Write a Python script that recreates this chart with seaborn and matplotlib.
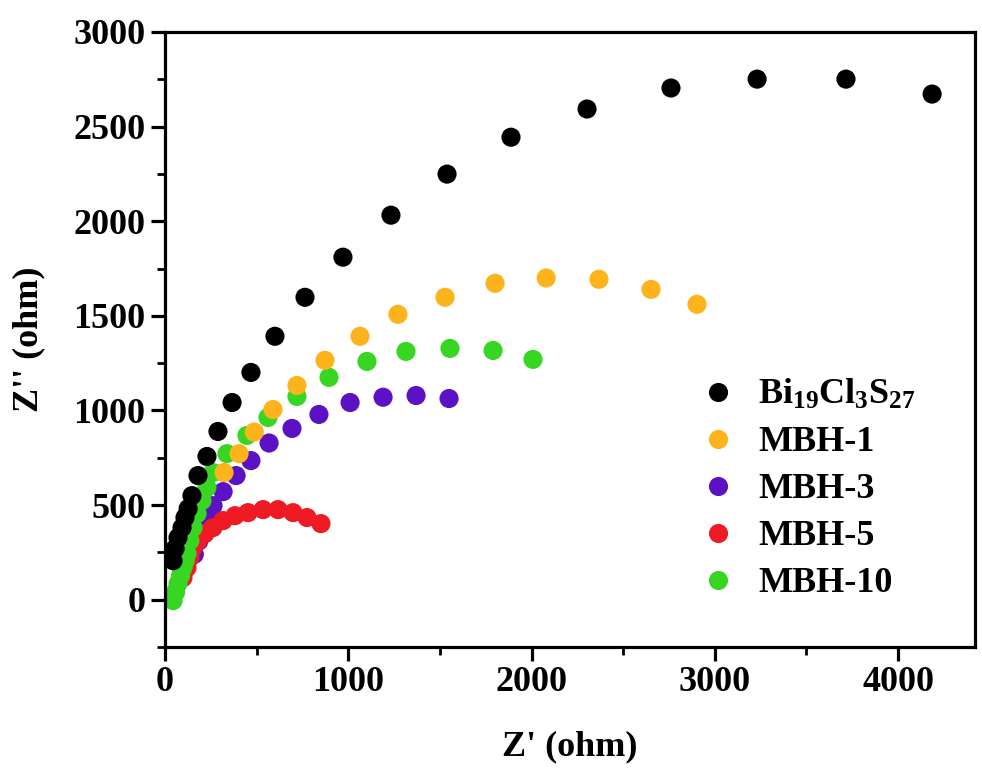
import numpy as np
import pandas as pd
import matplotlib
matplotlib.use("Agg")
import matplotlib.pyplot as plt
from matplotlib.ticker import MultipleLocator
import seaborn as sns

# ---- data ----
bi_x = [44, 55, 71, 93, 109, 126, 147, 180, 229, 289, 366, 469, 600, 764, 971, 1233, 1539, 1888, 2303, 2761, 3231, 3716, 4186]
bi_y = [206, 270, 328, 381, 434, 481, 550, 656, 757, 889, 1042, 1201, 1392, 1598, 1810, 2032, 2249, 2444, 2593, 2704, 2751, 2751, 2672]

m1_x = [322, 404, 487, 589, 720, 873, 1064, 1271, 1528, 1801, 2080, 2368, 2652, 2903]
m1_y = [672, 772, 886, 1005, 1132, 1265, 1392, 1508, 1598, 1672, 1700, 1693, 1640, 1561]

m3_x = [160, 185, 207, 229, 262, 317, 388, 469, 568, 693, 840, 1010, 1190, 1370, 1550]
m3_y = [240, 310, 381, 434, 497, 571, 656, 735, 828, 905, 979, 1042, 1070, 1079, 1063]

m5_x = [98, 120, 136, 153, 180, 218, 262, 317, 382, 453, 535, 617, 699, 775, 851]
m5_y = [116, 169, 222, 275, 312, 349, 381, 418, 444, 460, 476, 476, 460, 434, 402]

m10_x = [44, 58, 71, 85, 98, 110, 120, 136, 153, 175, 202, 229, 262, 338, 447, 562, 720, 895, 1102, 1315, 1555, 1790, 2008]
m10_y = [-5, 40, 85, 128, 169, 205, 243, 312, 381, 455, 524, 593, 672, 772, 868, 963, 1074, 1175, 1259, 1312, 1328, 1317, 1270]

labels = [r"Bi$_{19}$Cl$_{3}$S$_{27}$", "MBH-1", "MBH-3", "MBH-5", "MBH-10"]
colors = ["#000000", "#FDB31C", "#5A12C4", "#EE1A24", "#36D622"]

# drawing order (bottom -> top) to mimic overlaps
draw_order = [2, 3, 4, 1, 0]
series = [(bi_x, bi_y), (m1_x, m1_y), (m3_x, m3_y), (m5_x, m5_y), (m10_x, m10_y)]

frames = []
for i in draw_order:
    xs, ys = series[i]
    frames.append(pd.DataFrame({"x": xs, "y": ys, "sample": labels[i]}))
df = pd.concat(frames, ignore_index=True)

# ---- style ----
sns.set_style("ticks")
plt.rcParams["font.family"] = ["Liberation Serif", "DejaVu Serif"]
plt.rcParams["font.weight"] = "bold"
plt.rcParams["mathtext.fontset"] = "custom"
plt.rcParams["mathtext.rm"] = "Liberation Serif:bold"
plt.rcParams["mathtext.it"] = "Liberation Serif:bold"
plt.rcParams["mathtext.bf"] = "Liberation Serif:bold"
plt.rcParams["mathtext.default"] = "regular"
plt.rcParams["text.color"] = "black"
plt.rcParams["axes.labelcolor"] = "black"
plt.rcParams["xtick.color"] = "black"
plt.rcParams["ytick.color"] = "black"
plt.rcParams["axes.edgecolor"] = "black"

FS = 26

fig = plt.figure(figsize=(9.82, 7.69), dpi=100)
ax = fig.add_axes([165 / 982, 1 - 647 / 769, (975 - 165) / 982, (647 - 32) / 769])

sns.scatterplot(data=df, x="x", y="y", hue="sample", hue_order=labels,
                palette=dict(zip(labels, colors)), s=190, linewidth=0,
                edgecolor="none", alpha=1, ax=ax)

ax.set_xlim(0, 4420)
ax.set_ylim(-250, 3000)
ax.xaxis.set_major_locator(MultipleLocator(1000))
ax.xaxis.set_minor_locator(MultipleLocator(500))
ax.yaxis.set_major_locator(MultipleLocator(500))
ax.yaxis.set_minor_locator(MultipleLocator(250))

for sp in ax.spines.values():
    sp.set_linewidth(2.3)
    sp.set_color("black")
ax.tick_params(which="major", direction="out", length=10, width=2.3, pad=4,
               labelsize=FS, top=False, right=False, color="black",
               labelcolor="black")
ax.tick_params(which="minor", direction="out", length=6, width=2.0,
               top=False, right=False, color="black")
for t in ax.get_xticklabels() + ax.get_yticklabels():
    t.set_fontweight("bold")

ax.set_xlabel("Z' (ohm)", fontsize=FS, fontweight="bold", labelpad=22, color="black")
ax.set_ylabel("Z'' (ohm)", fontsize=FS, fontweight="bold", labelpad=20, color="black")

handles, labs = ax.get_legend_handles_labels()
leg = ax.legend(handles, labs, frameon=False, loc="upper left",
                bbox_to_anchor=(0.661, 0.437), borderaxespad=0, borderpad=0,
                handlelength=1.0, handletextpad=0.6, labelspacing=0.38,
                prop={"size": FS, "weight": "bold"}, markerscale=1.0)
for t in leg.get_texts():
    t.set_color("black")

fig.savefig("out.png", dpi=100)
